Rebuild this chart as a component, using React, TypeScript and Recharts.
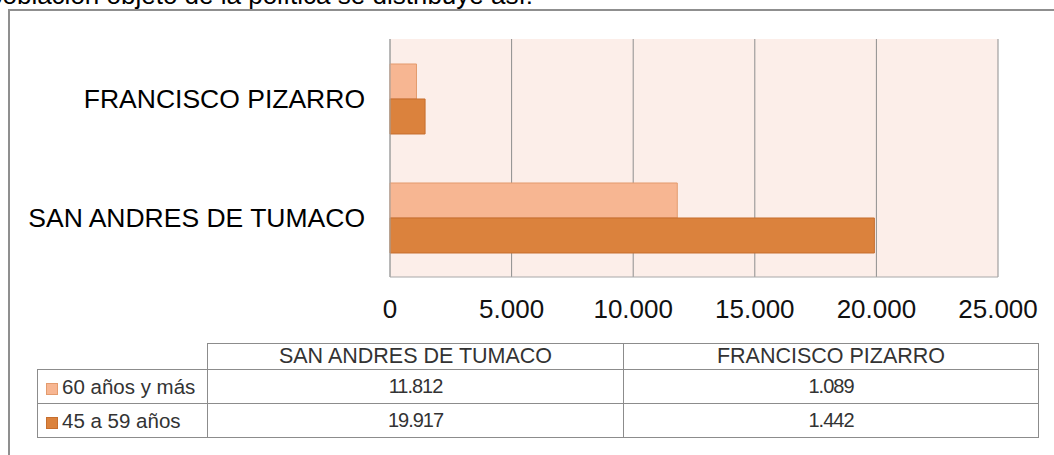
import { Bar, BarChart, CartesianGrid, XAxis, YAxis } from 'recharts';

const categories = ['SAN ANDRES DE TUMACO', 'FRANCISCO PIZARRO'];
const seriesNames = ['60 años y más', '45 a 59 años'];
const mayores60 = [11812, 1089];
const de45a59 = [19917, 1442];
const xTicks = [0, 5000, 10000, 15000, 20000, 25000];

const colors = ['#F7B692', '#DB823D'];
const strokes = ['#E39B6E', '#C66E2E'];

const data = categories.map((name, i) => ({ name, a: mayores60[i], b: de45a59[i] }));
const tableRows = [mayores60, de45a59];

const fmt = (n: number) => String(n).replace(/\B(?=(\d{3})+(?!\d))/g, '.');

const font = '"Liberation Sans", Arial, sans-serif';
const line = '1px solid #8c8c8c';

export default function App() {
  return (
    <div style={{ position: 'absolute', left: 0, top: 0, width: 1054, height: 455, overflow: 'hidden', background: '#fff', fontFamily: font }}>
      <div style={{ position: 'absolute', left: -12, top: -18, fontSize: 26, lineHeight: '26px', whiteSpace: 'nowrap', color: '#000' }}>
        población objeto de la política se distribuye así:
      </div>
      <div style={{ position: 'absolute', left: 8, top: 9, width: 1100, height: 500, borderLeft: '2px solid #8f8f8f', borderTop: '2px solid #8f8f8f' }} />
      <div style={{ position: 'absolute', left: 0, top: 0 }}>
        <BarChart
          width={1054}
          height={455}
          data={data}
          layout="vertical"
          margin={{ top: 39, right: 56, bottom: 148, left: 0 }}
          barCategoryGap="21%"
          barGap={0}
        >
          <CartesianGrid horizontal={false} stroke="#8e8e8e" fill="#FCEEE9" />
          <XAxis
            type="number"
            domain={[0, 25000]}
            ticks={xTicks}
            tickFormatter={fmt}
            axisLine={{ stroke: '#a8a8a8' }}
            tickLine={false}
            tickSize={0}
            tickMargin={23}
            height={30}
            tick={{ fontSize: 26, fill: '#111', fontFamily: font }}
          />
          <YAxis
            type="category"
            dataKey="name"
            reversed
            width={390}
            axisLine={{ stroke: '#a8a8a8' }}
            tickLine={false}
            tickSize={0}
            tickMargin={25}
            tick={{ fontSize: 26.5, fill: '#000', fontFamily: font }}
          />
          <Bar dataKey="a" name={seriesNames[0]} fill={colors[0]} stroke={strokes[0]} strokeWidth={1} isAnimationActive={false} />
          <Bar dataKey="b" name={seriesNames[1]} fill={colors[1]} stroke={strokes[1]} strokeWidth={1} isAnimationActive={false} />
        </BarChart>
      </div>
      <table
        style={{
          position: 'absolute',
          left: 37,
          top: 343,
          borderCollapse: 'collapse',
          tableLayout: 'fixed',
          color: '#333',
          fontFamily: font,
        }}
      >
        <colgroup>
          <col style={{ width: 170 }} />
          <col style={{ width: 416 }} />
          <col style={{ width: 415 }} />
        </colgroup>
        <tbody>
          <tr style={{ height: 26 }}>
            <td style={{ border: 'none', padding: 0 }} />
            {categories.map((c) => (
              <td key={c} style={{ border: line, padding: 0, textAlign: 'center', fontSize: 21.5, fontWeight: 'normal' }}>
                {c}
              </td>
            ))}
          </tr>
          {tableRows.map((row, r) => (
            <tr key={seriesNames[r]} style={{ height: 34 }}>
              <td style={{ border: line, padding: '0 0 0 8px', fontSize: 20.5, whiteSpace: 'nowrap' }}>
                <span
                  style={{
                    display: 'inline-block',
                    width: 10,
                    height: 10,
                    background: colors[r],
                    border: `1px solid ${strokes[r]}`,
                    marginRight: 4,
                    verticalAlign: '-1px',
                  }}
                />
                {seriesNames[r]}
              </td>
              {row.map((v, i) => (
                <td key={i} style={{ border: line, padding: 0, textAlign: 'center', fontSize: 20, letterSpacing: -1 }}>
                  {fmt(v)}
                </td>
              ))}
            </tr>
          ))}
        </tbody>
      </table>
    </div>
  );
}
